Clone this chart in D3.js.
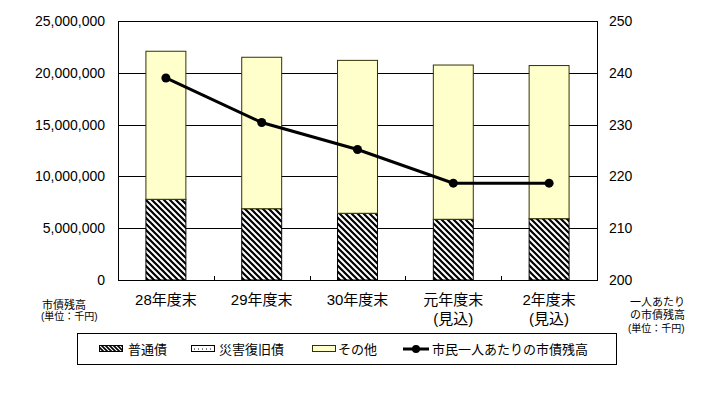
<!DOCTYPE html>
<html><head><meta charset="utf-8">
<script src="https://cdn.jsdelivr.net/npm/d3@7"></script>
<style>
body{margin:0;background:#fff;}
text{font-family:"Liberation Sans","Noto Sans CJK JP",sans-serif;fill:#000;}
</style></head>
<body><svg id="c" width="713" height="395"></svg>
<script>
const categories = ["28年度末","29年度末","30年度末","元年度末\n(見込)","2年度末\n(見込)"];
const futsuSai = [7790000, 6880000, 6440000, 5860000, 5920000];
const saigaiSai = [0, 0, 0, 0, 0];
const sonota = [14290000, 14620000, 14760000, 14890000, 14780000];
const perCapita = [239.0, 230.4, 225.2, 218.7, 218.7];
const leftTicks = [0, 5000000, 10000000, 15000000, 20000000, 25000000];
const rightTicks = [200, 210, 220, 230, 240, 250];
const legendLabels = ["普通債","災害復旧債","その他","市民一人あたりの市債残高"];

const svg = d3.select("#c");
const L = 118, R = 597, T = 21, B = 280;
const x = d3.scaleBand().domain(categories).range([L, R]).paddingInner(0.583).paddingOuter(0.2915);
const yL = d3.scaleLinear().domain([0, 25000000]).range([B, T]);
const yR = d3.scaleLinear().domain([200, 250]).range([B, T]);

const defs = svg.append("defs");
const pat = defs.append("pattern").attr("id","hatch").attr("patternUnits","userSpaceOnUse")
  .attr("width",6).attr("height",6);
pat.append("rect").attr("width",6).attr("height",6).attr("fill","#fff");
pat.append("path").attr("d","M-1,-1 L7,7 M-7,-1 L1,7 M5,-1 L13,7").attr("stroke","#000").attr("stroke-width",2.2);
const pat2 = defs.append("pattern").attr("id","hatchS").attr("patternUnits","userSpaceOnUse")
  .attr("width",4).attr("height",4);
pat2.append("rect").attr("width",4).attr("height",4).attr("fill","#fff");
pat2.append("path").attr("d","M-1,-1 L5,5 M-5,-1 L1,5 M3,-1 L9,5").attr("stroke","#000").attr("stroke-width",1.6);

// left axis with gridlines
const gL = svg.append("g").attr("transform",`translate(${L},0)`)
  .call(d3.axisLeft(yL).tickValues(leftTicks).tickSize(-(R-L)).tickPadding(13).tickFormat(d3.format(",")));
gL.select(".domain").remove();
gL.selectAll(".tick line").attr("stroke","#000").attr("shape-rendering","crispEdges");
gL.selectAll(".tick text").attr("font-size",14).style("font-family","Liberation Sans");

const gR = svg.append("g").attr("transform",`translate(${R},0)`)
  .call(d3.axisRight(yR).tickValues(rightTicks).tickSize(0).tickPadding(12));
gR.select(".domain").remove();
gR.selectAll(".tick text").attr("font-size",14).style("font-family","Liberation Sans");

// axis lines
svg.append("line").attr("x1",L).attr("x2",L).attr("y1",T).attr("y2",B).attr("stroke","#000").attr("shape-rendering","crispEdges");
svg.append("line").attr("x1",R).attr("x2",R).attr("y1",T).attr("y2",B).attr("stroke","#000").attr("shape-rendering","crispEdges");

// bottom axis with inward ticks at category boundaries
const xb = d3.scaleLinear().domain([0, categories.length]).range([L, R]);
const gB = svg.append("g").attr("transform",`translate(0,${B})`)
  .call(d3.axisBottom(xb).ticks(categories.length).tickSize(-4).tickFormat(""));
gB.selectAll("path.domain").attr("stroke","#000").attr("shape-rendering","crispEdges");
gB.selectAll(".tick line").attr("stroke","#000").attr("shape-rendering","crispEdges");

// bars
const bw = x.bandwidth();
categories.forEach((c,i)=>{
  const y0 = futsuSai[i], y1 = y0 + saigaiSai[i], y2 = y1 + sonota[i];
  svg.append("rect").attr("x",x(c)).attr("width",bw).attr("y",yL(y0)).attr("height",yL(0)-yL(y0))
    .attr("fill","url(#hatch)").attr("stroke","#000").attr("stroke-width",1);
  if (saigaiSai[i] > 0)
    svg.append("rect").attr("x",x(c)).attr("width",bw).attr("y",yL(y1)).attr("height",yL(y0)-yL(y1))
      .attr("fill","#fff").attr("stroke","#000");
  svg.append("rect").attr("x",x(c)).attr("width",bw).attr("y",yL(y2)).attr("height",yL(y1)-yL(y2))
    .attr("fill","#FFFFCC").attr("stroke","#333300").attr("stroke-width",1);
});

// line
const line = d3.line().x((d,i)=>x(categories[i])+bw/2).y(d=>yR(d));
svg.append("path").datum(perCapita).attr("d",line).attr("fill","none").attr("stroke","#000").attr("stroke-width",3);
svg.selectAll("circle.pt").data(perCapita).enter().append("circle").attr("class","pt")
  .attr("cx",(d,i)=>x(categories[i])+bw/2).attr("cy",d=>yR(d)).attr("r",4.5).attr("fill","#000");

// category labels
categories.forEach(c=>{
  const lines = c.split("\n");
  const t = svg.append("text").attr("text-anchor","middle").attr("font-size",15);
  lines.forEach((s,k)=>t.append("tspan").attr("x",x(c)+bw/2).attr("y",305+k*19).text(s));
});

// unit labels
const ul = svg.append("text").attr("font-size",11);
ul.append("tspan").attr("x",42).attr("y",309).text("市債残高");
ul.append("tspan").attr("x",41).attr("y",320).attr("font-size",10).text("(単位：千円)");
const ur = svg.append("text").attr("font-size",11);
ur.append("tspan").attr("x",630).attr("y",306).text("一人あたり");
ur.append("tspan").attr("x",630).attr("y",319).text("の市債残高");
ur.append("tspan").attr("x",628).attr("y",332).attr("font-size",10).text("(単位：千円)");

// legend
svg.append("rect").attr("x",77.5).attr("y",333.5).attr("width",539).attr("height",31)
  .attr("fill","#fff").attr("stroke","#000");
const ly = 349;
svg.append("rect").attr("x",99.5).attr("y",ly-3.5).attr("width",23).attr("height",6).attr("fill","url(#hatchS)").attr("stroke","#000");
svg.append("text").attr("x",128).attr("y",ly+5).attr("font-size",13).text(legendLabels[0]);
svg.append("rect").attr("x",191.5).attr("y",ly-3.5).attr("width",23).attr("height",6).attr("fill","#fff").attr("stroke","#000");
svg.append("line").attr("x1",194).attr("x2",212).attr("y1",ly).attr("y2",ly).attr("stroke","#000").attr("stroke-dasharray","1,3");
svg.append("text").attr("x",219).attr("y",ly+5).attr("font-size",13).text(legendLabels[1]);
svg.append("rect").attr("x",312.5).attr("y",ly-3.5).attr("width",23).attr("height",6).attr("fill","#FFFFCC").attr("stroke","#333300");
svg.append("text").attr("x",338).attr("y",ly+5).attr("font-size",13).text(legendLabels[2]);
svg.append("line").attr("x1",403).attr("x2",429).attr("y1",ly).attr("y2",ly).attr("stroke","#000").attr("stroke-width",3);
svg.append("circle").attr("cx",416).attr("cy",ly).attr("r",4).attr("fill","#000");
svg.append("text").attr("x",432).attr("y",ly+5).attr("font-size",13).text(legendLabels[3]);
</script></body></html>
